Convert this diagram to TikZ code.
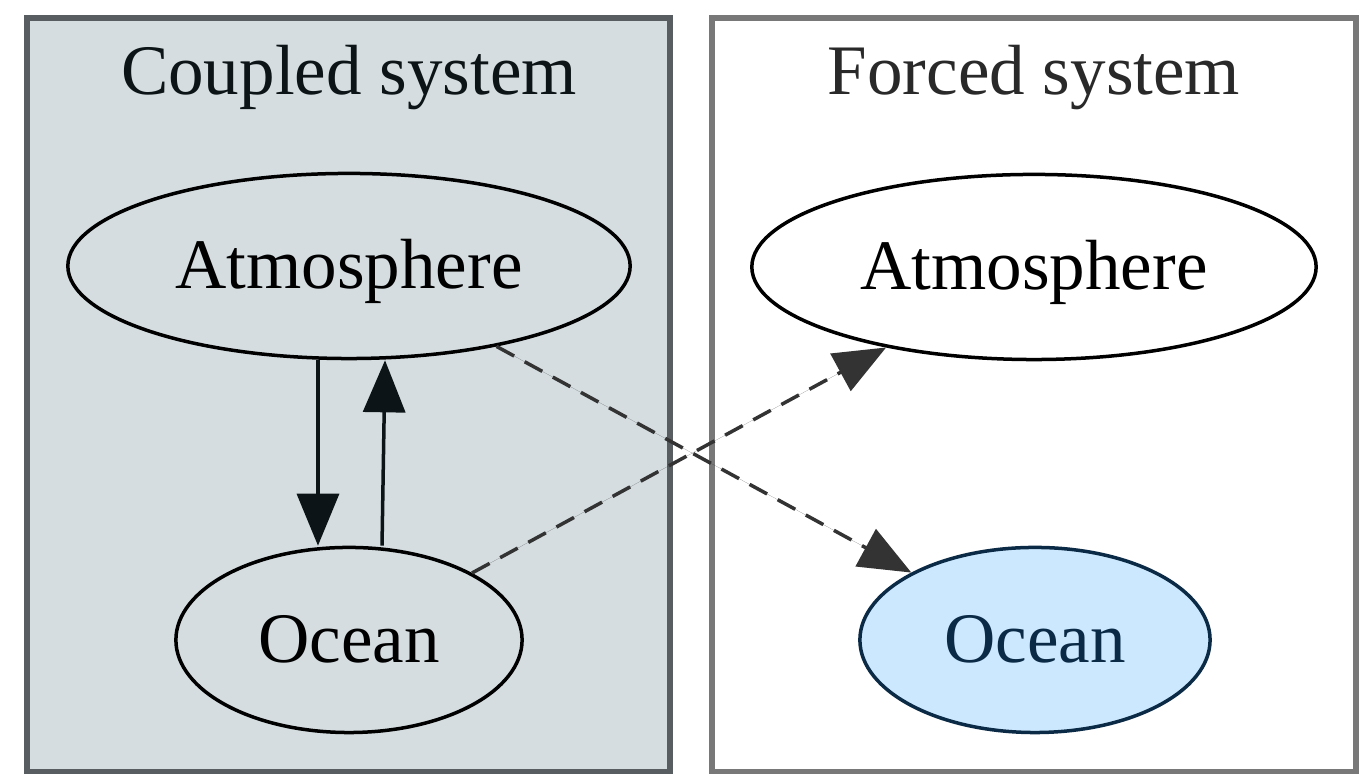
\documentclass[tikz,border=0pt]{standalone}
\usepackage{fontspec}
\setmainfont{Liberation Serif}
\usetikzlibrary{shapes.geometric,arrows.meta,positioning}
\definecolor{clusterfill}{HTML}{D5DDE1}
\definecolor{clusterline}{HTML}{575D60}
\definecolor{forcedline}{HTML}{787878}
\definecolor{oceanfill}{HTML}{CCE8FF}
\definecolor{oceanline}{HTML}{0B2A45}
\definecolor{dashgray}{HTML}{333333}
\definecolor{inkblack}{HTML}{0C1418}

\begin{document}
\begin{tikzpicture}[x=0.01cm,y=-0.01cm,
	every node/.style={font=\fontsize{20.2}{24}\selectfont},
	cluster/.style={draw, rectangle, line width=0.055cm, inner sep=0pt},
	var/.style={ellipse, draw, line width=0.035cm, inner sep=0pt, minimum height=1.85cm, text height=0.5cm, text depth=0.04cm},
	tip/.style={-{Triangle[length=0.52cm,width=0.42cm]}, line width=0.035cm},
	forcing/.style={tip, draw=dashgray, fill=dashgray, dash pattern=on 0.2cm off 0.12cm}]
	\useasboundingbox (0,0) rectangle (1365,774);
	\node[cluster, fill=clusterfill, draw=clusterline, minimum width=6.43cm, minimum height=7.54cm] (coupled) at (348.5,395) {};
	\node[cluster, fill=white, draw=forcedline, minimum width=6.44cm, minimum height=7.54cm] (forced) at (1034,395) {};
	\node[anchor=base, text=inkblack] (coupledtitle) at (349,95) {Coupled system};
	\node[anchor=base, text=dashgray!80!black] (forcedtitle) at (1034,95) {Forced system};
	\node[var, minimum width=5.62cm] (catm) at (349,266) {Atmosphere};
	\node[var, minimum width=3.46cm] (cocn) at (349,640) {Ocean};
	\node[var, minimum width=5.64cm] (fatm) at (1034,267) {Atmosphere};
	\node[var, minimum width=3.50cm, fill=oceanfill, draw=oceanline, text=oceanline] (focn) at (1035,640) {Ocean};
	\path[inkblack]
		([xshift=-0.31cm]catm.south) edge[tip] ([xshift=-0.31cm]cocn.north)
		([xshift=0.33cm]cocn.north) edge[tip] ([xshift=0.36cm]catm.south);
	\path
		(catm) edge[forcing] (focn)
		(cocn) edge[forcing] (fatm);
\end{tikzpicture}
\end{document}
